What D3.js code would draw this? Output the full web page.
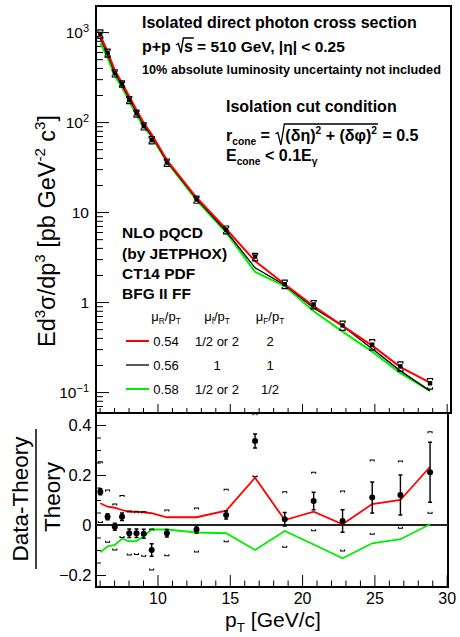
<!DOCTYPE html>
<html>
<head>
<meta charset="utf-8">
<script src="https://cdn.jsdelivr.net/npm/d3@7"></script>
<style>
body { margin: 0; background: #fff; }
text { font-family: "Liberation Sans", Arial, Helvetica, sans-serif; fill: #000; white-space: pre; }
</style>
</head>
<body>
<script>
// pT bin centres [GeV/c]
var pT = [6.05, 6.55, 7.05, 7.55, 8.05, 8.55, 9.05, 9.6, 10.65, 12.7, 14.75, 16.75, 18.8, 20.8, 22.8, 24.85, 26.8, 28.85];
// measured cross section [pb GeV^-2 c^3]
var xsec = [955, 586, 350, 266, 176, 125, 90, 63, 35.5, 13.8, 6.37, 3.2, 1.58, 0.94, 0.55, 0.336, 0.193, 0.125];
// JETPHOX curves
var theoryMid = [843, 567, 352, 257, 182, 129, 93.3, 70, 36.7, 14.05, 6.13, 2.40, 1.545, 0.858, 0.541, 0.303, 0.172, 0.103];
var theoryRed = [916, 608, 376, 272, 192, 136, 98.1, 73.3, 37.8, 14.5, 6.48, 2.85, 1.576, 0.903, 0.543, 0.328, 0.189, 0.127];
var theoryGreen = [751, 519, 324, 243, 170, 121, 89.1, 68.7, 36.0, 13.6, 5.93, 2.16, 1.508, 0.791, 0.469, 0.281, 0.162, 0.103];

// (Data-Theory)/Theory
var ratio = [0.133, 0.033, -0.007, 0.033, -0.033, -0.033, -0.035, -0.1, -0.033, -0.018, 0.04, 0.336, 0.023, 0.096, 0.016, 0.11, 0.12, 0.211];
var ratioStat = [0.012, 0.012, 0.014, 0.015, 0.017, 0.017, 0.018, 0.025, 0.015, 0.015, 0.016, 0.028, 0.027, 0.035, 0.045, 0.062, 0.08, 0.12];
var sysHigh = [0.253, 0.14, 0.084, 0.118, 0.056, 0.053, 0.053, -0.016, 0.06, 0.068, 0.143, 0.445, 0.133, 0.211, 0.136, 0.26, 0.256, 0.373];
var sysLow = [0.01, -0.069, -0.1, -0.05, -0.12, -0.118, -0.125, -0.18, -0.123, -0.108, -0.067, 0.193, -0.089, -0.023, -0.104, -0.037, -0.013, 0.047];
var redRatio = [0.087, 0.073, 0.069, 0.06, 0.053, 0.053, 0.051, 0.047, 0.031, 0.031, 0.057, 0.189, 0.02, 0.053, 0.003, 0.084, 0.1, 0.233];
var greenRatio = [-0.109, -0.085, -0.08, -0.055, -0.065, -0.064, -0.045, -0.018, -0.018, -0.03, -0.033, -0.1, -0.024, -0.078, -0.133, -0.073, -0.057, 0.003];

var decadeTicks = [0.1, 1, 10, 100, 1000];
var xMajor = [10, 15, 20, 25, 30];
var ratioTicks = [-0.2, 0, 0.2, 0.4];

// legend table
var muR = ['0.54', '0.56', '0.58'];
var muf = ['1/2 or 2', '1', '1/2 or 2'];
var muF = ['2', '1', '1/2'];
var curveColors = ['#ff0000', '#000000', '#00ee00'];

var svg = d3.select('body').append('svg')
	.attr('width', 460)
	.attr('height', 637);

var xTop = d3.scaleLinear().domain([5.75, 30.3]).range([96, 451]);
var xBot = d3.scaleLinear().domain([5.75, 30.09]).range([96, 448]);
var yTop = d3.scaleLog().domain([0.0585, 1950]).range([413, 6]);
var yBot = d3.scaleLinear().domain([-0.248, 0.448]).range([587, 413]);

function richText(parent, x, y, parts, size, weight) {
	var t = parent.append('text')
		.attr('x', x).attr('y', y)
		.style('font-size', size + 'px')
		.style('font-weight', weight || 'normal');
	var shift = 0;
	parts.forEach(function (p) {
		var s = typeof p === 'string' ? {t: p} : p;
		var target = s.sup ? -0.42 * size : (s.sub ? 0.24 * size : 0);
		var ts = t.append('tspan').text(s.t).attr('dy', target - shift);
		if (s.sup || s.sub) ts.style('font-size', (0.64 * size) + 'px');
		shift = target;
	});
	return t;
}

function styleTicks(g, width) {
	g.select('.domain').remove();
	g.selectAll('.tick line').attr('stroke', '#000').attr('stroke-width', width || 1);
}

// ---------- top panel axes
var minorLog = yTop.ticks().filter(function (d) {
	return decadeTicks.indexOf(d) < 0 && Math.abs(Math.log10(d) - Math.round(Math.log10(d))) > 1e-6;
});
svg.append('g').attr('transform', 'translate(96,0)')
	.call(d3.axisLeft(yTop).tickValues(minorLog).tickSizeInner(-7).tickSizeOuter(0).tickFormat(''))
	.call(styleTicks);

var yMajG = svg.append('g').attr('transform', 'translate(96,0)')
	.call(d3.axisLeft(yTop).tickValues(decadeTicks).tickSizeInner(-13).tickSizeOuter(0).tickPadding(7))
	.call(styleTicks);
yMajG.selectAll('.tick text').each(function (d) {
	var t = d3.select(this).text('').style('font-size', '15.5px').attr('fill', '#000');
	var e = Math.round(Math.log10(d));
	if (e === 0) { t.append('tspan').text('1'); return; }
	if (e === 1) { t.append('tspan').text('10'); return; }
	t.append('tspan').text('10');
	t.append('tspan').text(e < 0 ? '\u2212' + (-e) : String(e)).attr('dy', -6).style('font-size', '11px');
});

var xMinor = d3.range(6, 31).filter(function (d) { return d % 5 !== 0; });
svg.append('g').attr('transform', 'translate(0,413)')
	.call(d3.axisBottom(xTop).tickValues(xMinor).tickSizeInner(-5).tickSizeOuter(0).tickFormat(''))
	.call(styleTicks);
svg.append('g').attr('transform', 'translate(0,413)')
	.call(d3.axisBottom(xTop).tickValues(xMajor).tickSizeInner(-9).tickSizeOuter(0).tickFormat(''))
	.call(styleTicks);

// ---------- bottom panel axes
svg.append('g').attr('transform', 'translate(0,587)')
	.call(d3.axisBottom(xBot).tickValues(xMinor).tickSizeInner(-6.5).tickSizeOuter(0).tickFormat(''))
	.call(styleTicks);
var xBotG = svg.append('g').attr('transform', 'translate(0,587)')
	.call(d3.axisBottom(xBot).tickValues(xMajor).tickSizeInner(-12).tickSizeOuter(0).tickPadding(5.6).tickFormat(d3.format('d')))
	.call(styleTicks);
xBotG.selectAll('.tick text').style('font-size', '16px').attr('fill', '#000');

var ratioMinor = yBot.ticks(14).filter(function (d) { return Math.round(d * 100) % 20 !== 0; });
svg.append('g').attr('transform', 'translate(96,0)')
	.call(d3.axisLeft(yBot).tickValues(ratioMinor).tickSizeInner(-5).tickSizeOuter(0).tickFormat(''))
	.call(styleTicks);
var yBotG = svg.append('g').attr('transform', 'translate(96,0)')
	.call(d3.axisLeft(yBot).tickValues(ratioTicks).tickSizeInner(-10).tickSizeOuter(0).tickPadding(4.5)
		.tickFormat(function (d) { return d === 0 ? '0' : d3.format('.1f')(d); }))
	.call(styleTicks);
yBotG.selectAll('.tick text').style('font-size', '16.5px').attr('fill', '#000');

// frames
svg.append('rect').attr('x', 96).attr('y', 6).attr('width', 355).attr('height', 407)
	.attr('fill', 'none').attr('stroke', '#000').attr('stroke-width', 2);
svg.append('rect').attr('x', 96).attr('y', 413).attr('width', 352).attr('height', 174)
	.attr('fill', 'none').attr('stroke', '#000').attr('stroke-width', 2);

// ---------- top panel curves + data
var topLine = d3.line()
	.x(function (d, i) { return xTop(pT[i]); })
	.y(function (d) { return yTop(d); });
var curves = [theoryGreen, theoryMid, theoryRed];
var curveCol = [curveColors[2], curveColors[1], curveColors[0]];
var curveW = [2, 1.3, 2];
svg.append('g').selectAll('path').data(curves).enter().append('path')
	.attr('d', topLine)
	.attr('fill', 'none')
	.attr('stroke', function (d, i) { return curveCol[i]; })
	.attr('stroke-width', function (d, i) { return curveW[i]; });

var topPts = svg.append('g');
topPts.selectAll('path.sys').data(pT).enter().append('path')
	.attr('d', function (d, i) {
		var x = xTop(d);
		var hi = yTop(theoryMid[i] * (1 + sysHigh[i]));
		var lo = yTop(theoryMid[i] * (1 + sysLow[i]));
		return 'M' + (x - 2.5) + ',' + (hi + 1.8) + 'V' + hi + 'H' + (x + 2.5) + 'V' + (hi + 1.8) +
			'M' + (x - 2.5) + ',' + (lo - 1.8) + 'V' + lo + 'H' + (x + 2.5) + 'V' + (lo - 1.8);
	})
	.attr('fill', 'none').attr('stroke', '#000').attr('stroke-width', 1.2);
topPts.selectAll('rect').data(xsec).enter().append('rect')
	.attr('x', function (d, i) { return xTop(pT[i]) - 2.2; })
	.attr('y', function (d) { return yTop(d) - 2.2; })
	.attr('width', 4.4).attr('height', 4.4)
	.attr('fill', '#000');

// ---------- bottom panel
svg.append('line')
	.attr('x1', xBot(5.75)).attr('x2', xBot(30.09))
	.attr('y1', yBot(0)).attr('y2', yBot(0))
	.attr('stroke', '#222').attr('stroke-width', 1.8);

var botLine = d3.line()
	.x(function (d, i) { return xBot(pT[i]); })
	.y(function (d) { return yBot(d); });
svg.append('g').selectAll('path').data([redRatio, greenRatio]).enter().append('path')
	.attr('d', botLine)
	.attr('fill', 'none')
	.attr('stroke', function (d, i) { return i === 0 ? curveColors[0] : curveColors[2]; })
	.attr('stroke-width', 1.8);

var botPts = svg.append('g');
botPts.selectAll('path.sys').data(pT).enter().append('path')
	.attr('d', function (d, i) {
		var x = xBot(d), hi = yBot(sysHigh[i]), lo = yBot(sysLow[i]);
		return 'M' + (x - 2) + ',' + (hi + 1.6) + 'V' + hi + 'H' + (x + 2) + 'V' + (hi + 1.6) +
			'M' + (x - 2) + ',' + (lo - 1.6) + 'V' + lo + 'H' + (x + 2) + 'V' + (lo - 1.6);
	})
	.attr('fill', 'none').attr('stroke', '#000').attr('stroke-width', 1.1);
botPts.selectAll('path.stat').data(pT).enter().append('path')
	.attr('d', function (d, i) {
		var x = xBot(d), a = yBot(ratio[i] + ratioStat[i]), b = yBot(ratio[i] - ratioStat[i]);
		return 'M' + x + ',' + a + 'V' + b + 'M' + (x - 2) + ',' + a + 'H' + (x + 2) + 'M' + (x - 2) + ',' + b + 'H' + (x + 2);
	})
	.attr('fill', 'none').attr('stroke', '#000').attr('stroke-width', 1.4);
botPts.selectAll('circle').data(ratio).enter().append('circle')
	.attr('cx', function (d, i) { return xBot(pT[i]); })
	.attr('cy', function (d) { return yBot(d); })
	.attr('r', 3)
	.attr('fill', '#000');

// ---------- axis titles
var yt = richText(svg, 0, 0, ['Ed', {t: '3', sup: 1}, '\u03c3/dp', {t: '3', sup: 1}, ' [pb GeV', {t: '-2', sup: 1}, ' c', {t: '3', sup: 1}, ']'], 23.5);
yt.attr('text-anchor', 'middle').attr('transform', 'translate(55,231) rotate(-90)');

richText(svg, 0, 0, ['Data-Theory'], 22.5).attr('text-anchor', 'middle').attr('transform', 'translate(28,499) rotate(-90)');
svg.append('line').attr('x1', 36).attr('x2', 36).attr('y1', 429).attr('y2', 569).attr('stroke', '#000').attr('stroke-width', 1.5);
richText(svg, 0, 0, ['Theory'], 22.5).attr('text-anchor', 'middle').attr('transform', 'translate(60,497) rotate(-90)');

richText(svg, 273, 627, ['p', {t: 'T', sub: 1}, ' [GeV/c]'], 21).attr('text-anchor', 'middle');

// ---------- annotations
richText(svg, 142, 28, ['Isolated direct photon cross section'], 16, 'bold');

var l2 = richText(svg, 142, 52, ['p+p'], 16, 'bold');
var rx = 142 + l2.node().getComputedTextLength() + 5;
var sT = richText(svg, rx + 8, 52, ['s'], 16, 'bold');
var sw = sT.node().getComputedTextLength();
svg.append('path')
	.attr('d', 'M' + rx + ',' + 45 + 'L' + (rx + 2.5) + ',' + 43.5 + 'L' + (rx + 5) + ',' + 53 + 'L' + (rx + 7.5) + ',' + 38 + 'H' + (rx + 9 + sw))
	.attr('fill', 'none').attr('stroke', '#000').attr('stroke-width', 1.4);
richText(svg, rx + 8 + sw, 52, [' = 510 GeV, |\u03b7| < 0.25'], 15.5, 'bold');

richText(svg, 142, 74, ['10% absolute luminosity uncertainty not included'], 12.7, 'bold');

richText(svg, 226, 112, ['Isolation cut condition'], 16, 'bold');

var rc = richText(svg, 226, 141, ['r', {t: 'cone', sub: 1}, ' = '], 16, 'bold');
var rx2 = 226 + rc.node().getComputedTextLength() + 1;
var inner = richText(svg, rx2 + 10, 141, ['(\u03b4\u03b7)', {t: '2', sup: 1}, ' + (\u03b4\u03c6)', {t: '2', sup: 1}], 16, 'bold');
var iw = inner.node().getComputedTextLength();
svg.append('path')
	.attr('d', 'M' + rx2 + ',' + 134 + 'L' + (rx2 + 2.5) + ',' + 132.5 + 'L' + (rx2 + 5.5) + ',' + 145 + 'L' + (rx2 + 9) + ',' + 124 + 'H' + (rx2 + 11 + iw))
	.attr('fill', 'none').attr('stroke', '#000').attr('stroke-width', 1.3);
richText(svg, rx2 + 11 + iw, 141, [' = 0.5'], 16, 'bold');

richText(svg, 226, 161, ['E', {t: 'cone', sub: 1}, ' < 0.1E', {t: '\u03b3', sub: 1}], 16, 'bold');

var theoryLabels = ['NLO pQCD', '(by JETPHOX)', 'CT14 PDF', 'BFG II FF'];
var tly = [238, 258.5, 279, 299];
theoryLabels.forEach(function (s, i) {
	richText(svg, 122, tly[i], [s], 15.5, 'bold');
});

// legend table
var colX = [166, 217, 270];
richText(svg, colX[0], 321, ['\u03bc', {t: 'R', sub: 1}, '/p', {t: 'T', sub: 1}], 13).attr('text-anchor', 'middle');
richText(svg, colX[1], 321, ['\u03bc', {t: 'f', sub: 1}, '/p', {t: 'T', sub: 1}], 13).attr('text-anchor', 'middle');
richText(svg, colX[2], 321, ['\u03bc', {t: 'F', sub: 1}, '/p', {t: 'T', sub: 1}], 13).attr('text-anchor', 'middle');
var rowY = [345.5, 369.5, 393.5];
muR.forEach(function (s, i) {
	svg.append('line').attr('x1', 126).attr('x2', 149)
		.attr('y1', rowY[i] - 4.5).attr('y2', rowY[i] - 4.5)
		.attr('stroke', curveColors[i]).attr('stroke-width', i === 1 ? 1.3 : 2);
	richText(svg, colX[0], rowY[i], [s], 13).attr('text-anchor', 'middle');
	richText(svg, colX[1], rowY[i], [muf[i]], 13).attr('text-anchor', 'middle');
	richText(svg, colX[2], rowY[i], [muF[i]], 13).attr('text-anchor', 'middle');
});
</script>
</body>
</html>
